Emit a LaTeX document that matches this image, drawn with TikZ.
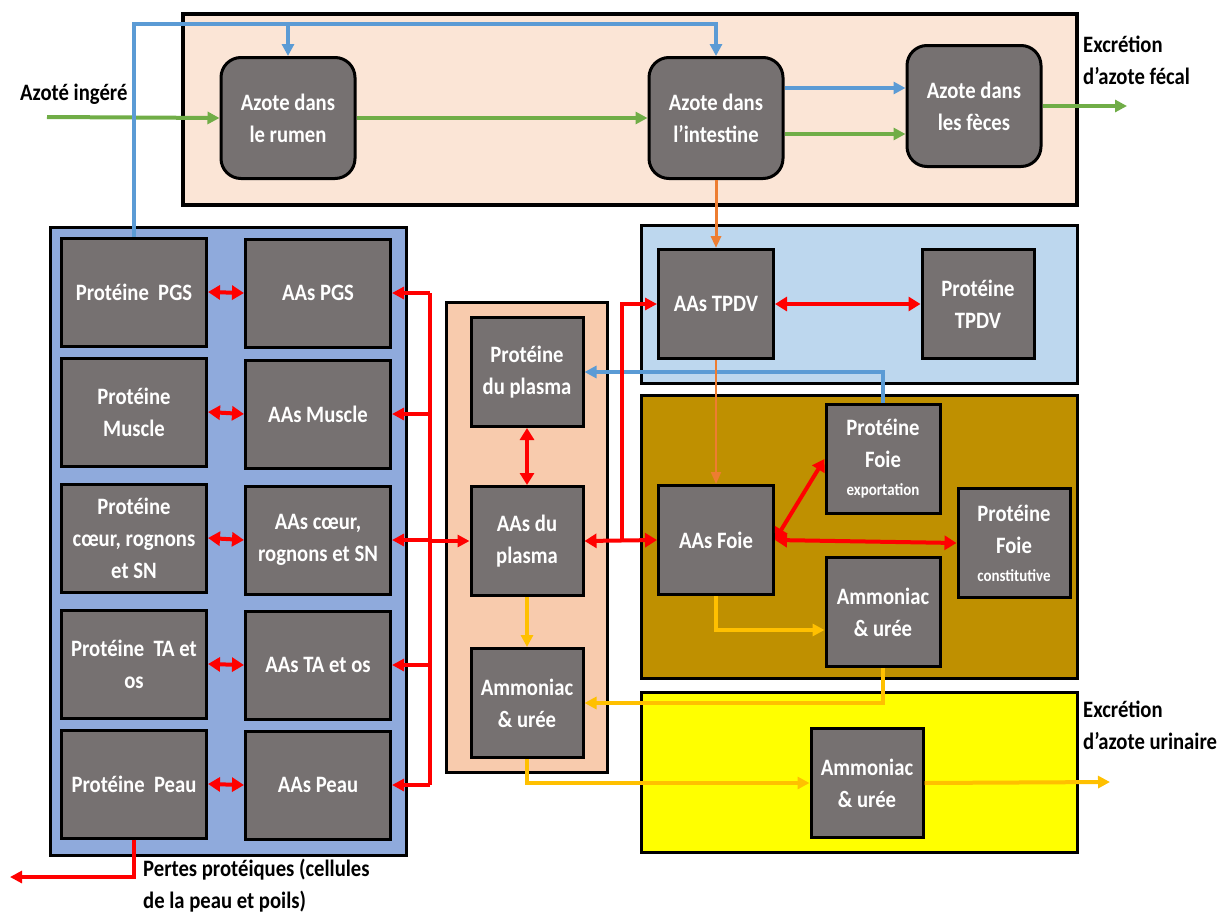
\documentclass[tikz,border=0pt]{standalone}
\usepackage{fontspec}
\setmainfont{Carlito}[FakeStretch=0.88]
\usetikzlibrary{arrows.meta,calc}

\definecolor{boxgray}{HTML}{767171}
\definecolor{toppink}{HTML}{FBE5D6}
\definecolor{leftblue}{HTML}{8FAADC}
\definecolor{midpeach}{HTML}{F8CBAD}
\definecolor{tpdvblue}{HTML}{BDD7EE}
\definecolor{foiebrown}{HTML}{BF9000}
\definecolor{urinyellow}{HTML}{FFFF00}
\definecolor{flowgreen}{HTML}{70AD47}
\definecolor{flowblue}{HTML}{5B9BD5}
\definecolor{floworange}{HTML}{ED7D31}
\definecolor{flowyellow}{HTML}{FFC000}
\definecolor{flowred}{HTML}{FF0000}

\newcommand{\petit}{\fontsize{17}{20}\selectfont}

\tikzset{
  wall/.style={draw=black, line width=3pt},
  box/.style={draw=black, line width=3pt, fill=boxgray, text=white, align=center,
    inner sep=0pt, font=\fontsize{23.5}{32}\selectfont\bfseries},
  rbox/.style={box, rounded corners=20pt, minimum width=134pt, minimum height=121pt},
  lbox/.style={box, minimum width=145pt, minimum height=108pt},
  mbox/.style={box, minimum width=112pt, minimum height=109pt},
  outlabel/.style={align=left, inner sep=0pt, font=\fontsize{23.5}{32}\selectfont\bfseries},
  tip/.style={-{Triangle[length=12pt,width=12pt]}},
  greenflow/.style={tip, flowgreen, line width=4pt},
  blueflow/.style={tip, flowblue, line width=3.5pt},
  orangeflow/.style={-{Triangle[length=12pt,width=10pt]}, floworange, line width=3pt},
  yellowflow/.style={tip, flowyellow, line width=4pt},
  redline/.style={flowred, line width=4pt},
  redflow/.style={tip, redline},
  redboth/.style={{Triangle[length=12pt,width=14pt]}-{Triangle[length=12pt,width=14pt]}, redline},
}

\begin{document}
\begin{tikzpicture}[x=1pt,y=-1pt]
  \useasboundingbox (0,0) rectangle (1226,918);

  % compartiments
  \draw[wall, line width=4pt, fill=toppink] (183,14) rectangle (1077,205);
  \draw[wall, fill=leftblue] (50,227) rectangle (406,855);
  \draw[wall, fill=midpeach] (446,302) rectangle (607,772);
  \draw[wall, fill=tpdvblue] (641,225) rectangle (1077,383);
  \draw[wall, fill=foiebrown] (641,395) rectangle (1077,678);
  \draw[wall, fill=urinyellow] (641,692) rectangle (1077,852);

  % tube digestif
  \node[rbox] (rumen) at (288,118) {Azote dans\\le rumen};
  \node[rbox] (intest) at (716,118) {Azote dans\\l’intestine};
  \node[rbox] (feces) at (974,106) {Azote dans\\les fèces};

  % tissus
  \node[lbox] (ppgs) at (134,292) {Protéine~ PGS};
  \node[lbox] (pmuscle) at (134,412) {Protéine\\Muscle};
  \node[lbox] (pcoeur) at (134,538) {Protéine\\cœur, rognons\\et SN};
  \node[lbox] (pta) at (134,664) {Protéine~ TA et\\os};
  \node[lbox] (ppeau) at (134,784) {Protéine~ Peau};
  \node[lbox] (apgs) at (318,293) {AAs PGS};
  \node[lbox] (amuscle) at (318,414) {AAs Muscle};
  \node[lbox] (acoeur) at (318,540) {AAs cœur,\\rognons et SN};
  \node[lbox] (ata) at (318,665) {AAs TA et os};
  \node[lbox] (apeau) at (318,785) {AAs Peau};

  % plasma
  \node[mbox] (pplasma) at (527,372) {Protéine\\du plasma};
  \node[mbox] (aplasma) at (527,541) {AAs du\\plasma};
  \node[mbox] (uplasma) at (527,703) {Ammoniac\\\& urée};

  % TPDV et foie
  \node[mbox, minimum width=115pt] (atpdv) at (716,304) {AAs TPDV};
  \node[mbox] (ptpdv) at (978,304) {Protéine\\TPDV};
  \node[mbox, minimum width=115pt] (afoie) at (716,540) {AAs Foie};
  \node[mbox, minimum width=114pt] (pexport) at (883,459)
    {Protéine\\Foie\\[-4pt]{\petit exportation}};
  \node[mbox] (pconst) at (1014,543)
    {Protéine\\Foie\\[-4pt]{\petit constitutive}};
  \node[mbox, minimum width=114pt] (ufoie) at (883,612) {Ammoniac\\\& urée};
  \node[mbox] (urine) at (867,783) {Ammoniac\\\& urée};

  % textes
  \node[outlabel, anchor=west] (lingere) at (20,94) {Azoté ingéré};
  \node[outlabel, anchor=north west] (lfecal) at (1083,36) {Excrétion\\d’azote fécal};
  \node[outlabel, anchor=north west] (lurine) at (1083,701) {Excrétion\\d’azote urinaire};
  \node[outlabel, anchor=north west] (lpertes) at (143,859)
    {Pertes protéiques (cellules\\de la peau et poils)};

  \coordinate (ingere) at (47,117);
  \coordinate (fecal) at (1127,106);
  \coordinate (urinout) at (1110,782);
  \coordinate (pertes) at (10,877);
  \coordinate (bluetop) at (0,24);
  \coordinate (bus) at (430,0);
  \coordinate (fork) at (622,0);

  % flux verts
  \draw[greenflow] (ingere) -- (rumen.west);
  \draw[greenflow] (rumen.east) -- (intest.west);
  \draw[greenflow] (intest.east |- 0,134) -- (feces.west |- 0,134);
  \draw[greenflow] (feces.east) -- (fecal);

  % flux bleus
  \draw[blueflow] (ppgs.north) -- (ppgs.north |- bluetop) -| (intest.north);
  \draw[blueflow] (rumen.north |- bluetop) -- (rumen.north);
  \draw[blueflow] (intest.east |- 0,88) -- (feces.west |- 0,88);
  \draw[blueflow] (pexport.north) |- (pplasma.east);

  % flux oranges
  \draw[orangeflow] (intest.south) -- (atpdv.north);
  \draw[orangeflow, line width=2pt] (atpdv.south) -- (afoie.north);

  % flux rouges
  \draw[redboth] (ppgs.east) -- (apgs.west);
  \draw[redboth] (pmuscle.east) -- (amuscle.west);
  \draw[redboth] (pcoeur.east) -- (acoeur.west);
  \draw[redboth] (pta.east) -- (ata.west);
  \draw[redboth] (ppeau.east) -- (apeau.west);
  \draw[redline] (bus |- apgs.east) -- (bus |- apeau.east);
  \draw[redflow] (bus |- apgs.east) -- (apgs.east);
  \draw[redflow] (bus |- amuscle.east) -- (amuscle.east);
  \draw[redflow] (bus |- acoeur.east) -- (acoeur.east);
  \draw[redflow] (bus |- ata.east) -- (ata.east);
  \draw[redflow] (bus |- apeau.east) -- (apeau.east);
  \draw[redflow] (bus |- aplasma.west) -- (aplasma.west);
  \draw[redboth] (pplasma.south) -- (aplasma.north);
  \draw[redboth] (aplasma.east) -- (afoie.west);
  \draw[redflow] (fork |- aplasma.east) -- (fork |- atpdv.west) -- (atpdv.west);
  \draw[redboth] (atpdv.east) -- (ptpdv.west);
  \draw[redboth] (afoie.east) -- (pexport.west);
  \draw[redboth] (afoie.east) -- (pconst.west);
  \draw[redflow] (ppeau.south) |- (pertes);

  % flux jaunes
  \draw[yellowflow] (aplasma.south) -- (uplasma.north);
  \draw[yellowflow] (afoie.south) |- ([yshift=-18pt]ufoie.west);
  \draw[yellowflow] (ufoie.south) |- (uplasma.east);
  \draw[yellowflow] (uplasma.south) |- (urine.west);
  \draw[yellowflow] (urine.east) -- (urinout);
\end{tikzpicture}
\end{document}
